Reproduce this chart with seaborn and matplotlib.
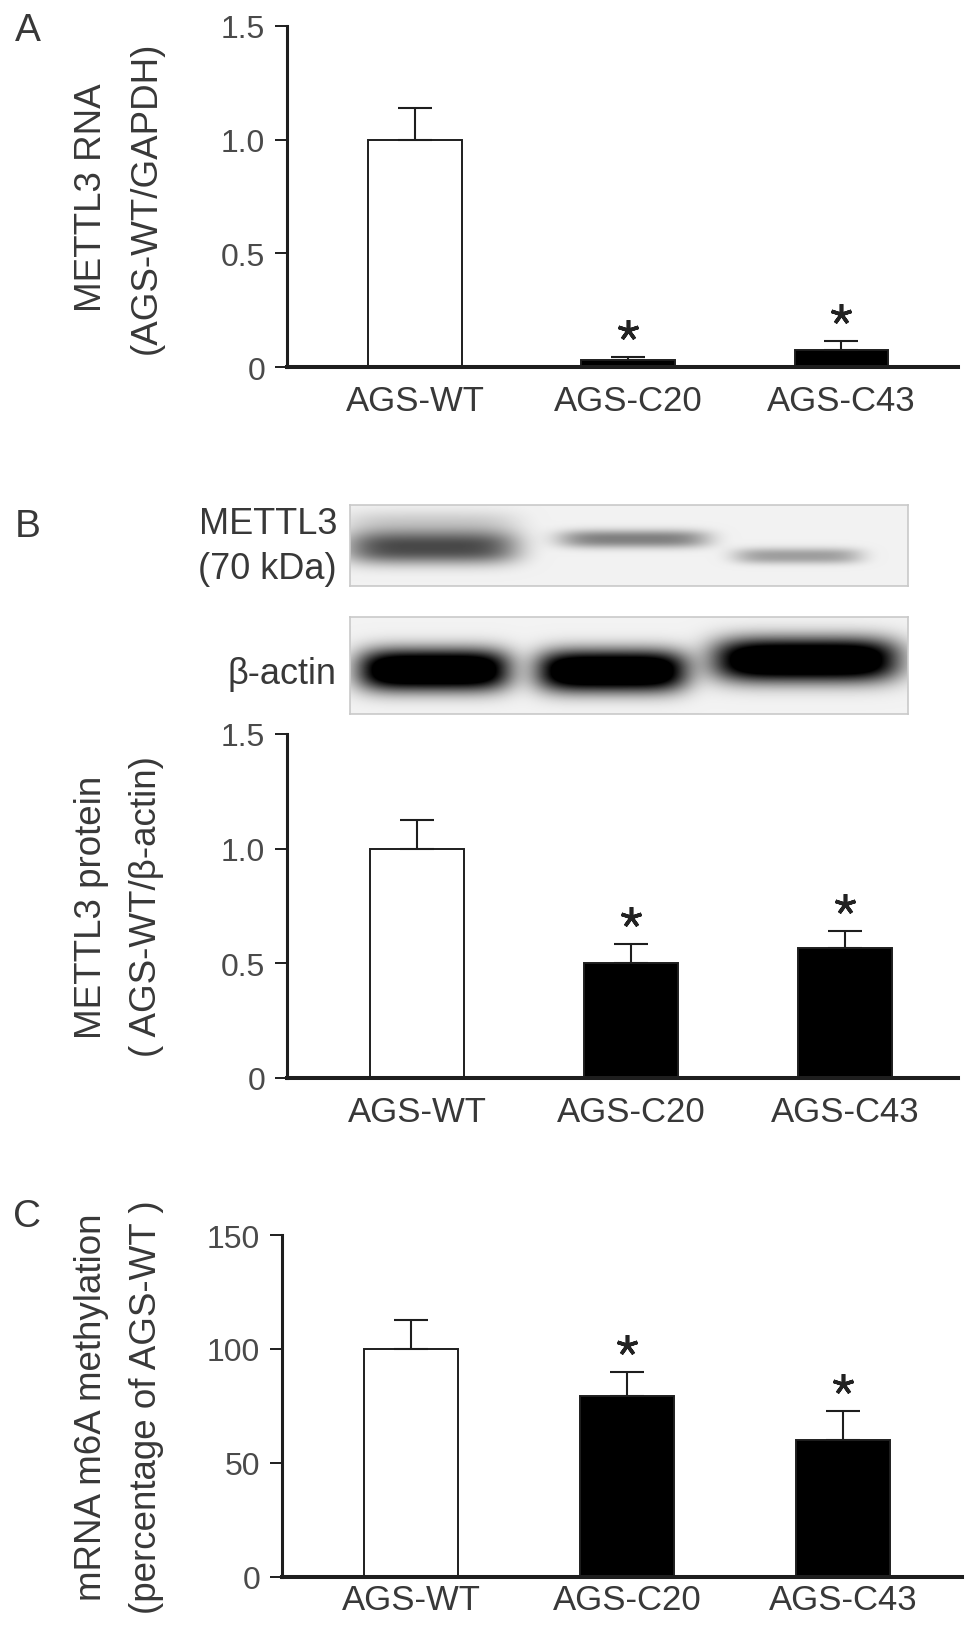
import numpy as np
import pandas as pd
import matplotlib
matplotlib.use("Agg")
import matplotlib.pyplot as plt
import matplotlib.transforms as mtrans
import seaborn as sns

# ---------------- data ----------------
groups = ["AGS-WT", "AGS-C20", "AGS-C43"]
fill_colors = ["white", "black", "black"]
significant = [False, True, True]

rna_mean = [1.00, 0.032, 0.075]
rna_sem = [0.14, 0.010, 0.040]
rna_ticks = [0, 0.5, 1.0, 1.5]
rna_ticklabels = ["0", "0.5", "1.0", "1.5"]

protein_mean = [1.00, 0.50, 0.567]
protein_sem = [0.126, 0.083, 0.074]
protein_ticks = [0, 0.5, 1.0, 1.5]
protein_ticklabels = ["0", "0.5", "1.0", "1.5"]

m6a_mean = [100.0, 79.4, 60.1]
m6a_sem = [12.7, 10.6, 12.7]
m6a_ticks = [0, 50, 100, 150]
m6a_ticklabels = ["0", "50", "100", "150"]

# relative band darkness on the western blot
mettl3_band = [0.66, 0.45, 0.33]
actin_band = [1.35, 1.35, 1.35]

# ---------------- style ----------------
sns.set_style("white")
plt.rcParams["font.family"] = ["Liberation Sans", "DejaVu Sans"]

W, H = 969, 1631
fig = plt.figure(figsize=(W / 100, H / 100), dpi=100)

TXT = "#383838"
TICK = "#4a4a4a"
SPINE = "#1e1e1e"


def add_px_axes(l, t, r, b):
    return fig.add_axes([l / W, 1 - b / H, (r - l) / W, (b - t) / H])


def bar_panel(box, means, sems, ticks, ticklabels, ymax, xlim, ylabel, xpad):
    l, t, r, b = box
    ax = add_px_axes(l, t, r, b)
    df = pd.DataFrame({"group": groups, "value": means})
    sns.barplot(data=df, x="group", y="value", hue="group", order=groups,
                hue_order=groups, palette=dict(zip(groups, fill_colors)),
                width=0.437, edgecolor=SPINE, linewidth=1.4, legend=False,
                errorbar=None, ax=ax, zorder=2)
    ax.errorbar(range(len(groups)), means,
                yerr=[np.zeros(len(groups)), sems], fmt="none",
                ecolor=SPINE, elinewidth=1.5, capsize=12.5, capthick=1.5,
                zorder=3)
    tr = mtrans.offset_copy(ax.transData, fig=fig, x=0, y=27, units="dots")
    for i, (m, s, sig) in enumerate(zip(means, sems, significant)):
        if sig:
            ax.plot(i, m + s, marker=(5, 2, 0), ms=15, mew=2.6,
                    color="#222222", transform=tr, clip_on=False)
    ax.set_ylim(0, ymax)
    ax.set_xlim(*xlim)
    ax.set_yticks(ticks, ticklabels)
    ax.set_xlabel("")
    for s in ["top", "right"]:
        ax.spines[s].set_visible(False)
    ax.spines["left"].set_linewidth(2.2)
    ax.spines["bottom"].set_linewidth(2.9)
    ax.spines["left"].set_color(SPINE)
    ax.spines["bottom"].set_color(SPINE)
    ax.tick_params(axis="y", length=8.6, width=1.4, pad=7, labelsize=23,
                   labelcolor=TICK, color=SPINE, left=True)
    ax.tick_params(axis="x", length=0, pad=xpad, labelsize=25,
                   labelcolor=TXT, bottom=False)
    ax.set_ylabel(ylabel, fontsize=26.5, color=TXT, linespacing=1.72)
    ax.yaxis.label.set_va("center")
    ax.yaxis.set_label_coords((119 - l) / (r - l), 0.5)
    ax.set_facecolor("none")
    return ax


# Panel A
bar_panel((287, 27, 958, 368), rna_mean, rna_sem, rna_ticks, rna_ticklabels,
          1.5, (-0.601, 2.549), "METTL3 RNA\n(AGS-WT/GAPDH)", 12.5)

# Panel B bars
bar_panel((287, 735, 958, 1079), protein_mean, protein_sem, protein_ticks,
          protein_ticklabels, 1.5, (-0.607, 2.528),
          "METTL3 protein\n( AGS-WT/β-actin)", 12.5)

# Panel C
bar_panel((282, 1236, 962, 1578), m6a_mean, m6a_sem, m6a_ticks,
          m6a_ticklabels, 150, (-0.597, 2.551),
          "mRNA m6A methylation\n(percentage of AGS-WT )", 4)


# ---------------- western blot strips ----------------
def blot(box, darkness, cxs, hws, cys, hhs, extra=None):
    l, t, r, b = box
    ax = add_px_axes(l, t, r, b)
    xs = np.arange(l, r) + 0.5
    ys = np.arange(t, b) + 0.5
    X, Y = np.meshgrid(xs, ys)
    img = np.full(X.shape, 0.95)
    bands = list(zip(darkness, cxs, hws, cys, hhs))
    if extra:
        bands += extra
    for d, cx, hw, cy, hh in bands:
        fx = np.exp(-np.abs((X - cx) / hw) ** 5)
        fy = np.exp(-np.abs((Y - cy) / hh) ** 2.4)
        img = img - d * fx * fy
    img = np.clip(img, 0, 1)
    ax.imshow(img, cmap="gray", vmin=0, vmax=1, extent=(l, r, b, t),
              aspect="auto", interpolation="bilinear")
    ax.set_xlim(l, r)
    ax.set_ylim(b, t)
    ax.set_xticks([])
    ax.set_yticks([])
    for s in ax.spines.values():
        s.set_color("#c9c9c9")
        s.set_linewidth(1.2)
    return ax


blot((350, 506, 908, 587), mettl3_band,
     cxs=[432, 634, 798], hws=[86, 75, 64], cys=[549, 540, 557],
     hhs=[16, 9, 8],
     extra=[(0.16, 432, 86, 526, 14)])
blot((350, 618, 908, 715), actin_band,
     cxs=[434, 612, 806], hws=[76, 75, 93], cys=[671, 672, 661],
     hhs=[21, 21, 22])

fig.text(337 / W, 1 - 547 / H, "METTL3\n(70 kDa)", ha="right", va="center",
         multialignment="right", fontsize=26, color=TXT, linespacing=1.38)
fig.text(337 / W, 1 - 674 / H, "β-actin", ha="right", va="center",
         fontsize=26, color=TXT)

# panel letters
for letter, (x, y) in zip(["A", "B", "C"], [(28, 31), (28, 527), (27, 1217)]):
    fig.text(x / W, 1 - y / H, letter, ha="center", va="center",
             fontsize=28, color=TXT)

fig.savefig("out.png", dpi=100)
